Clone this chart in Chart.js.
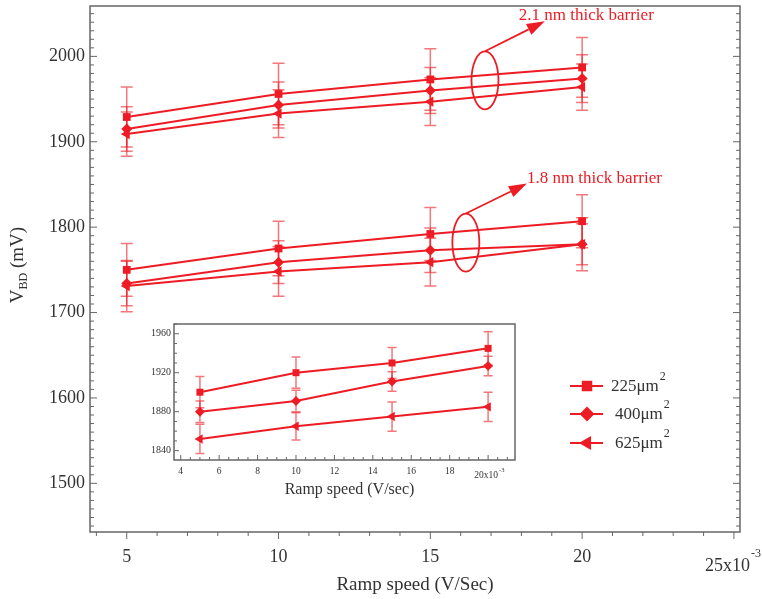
<!DOCTYPE html>
<html>
<head>
<meta charset="utf-8">
<script src="https://cdn.jsdelivr.net/npm/chart.js@4/dist/chart.umd.min.js"></script>
<style>
    body { margin: 0; background: #fff; }
    #wrap { position: relative; width: 762px; height: 599px; }
    #main { position: absolute; left: 0; top: 0; }
    #inset { position: absolute; left: 140px; top: 318px; }
</style>
</head>
<body>
<div id="wrap">
    <canvas id="main" width="762" height="599"></canvas>
    <canvas id="inset" width="385" height="185"></canvas>
</div>
<script>
// Ramp speed (x10^-3 V/s)
const speeds = [5, 10, 15, 20];

// 2.1 nm barrier: V_BD (mV) and error
const thick225 = [1929, 1956, 1973, 1987];
const thick225Err = [35, 36, 36, 35];
const thick400 = [1915, 1943, 1960, 1974];
const thick400Err = [26, 27, 27, 28];
const thick625 = [1909, 1933, 1947, 1964];
const thick625Err = [26, 28, 28, 27];

// 1.8 nm barrier
const thin225 = [1750, 1775, 1792, 1807];
const thin225Err = [31, 32, 31, 31];
const thin400 = [1734, 1759, 1773, 1780];
const thin400Err = [26, 25, 26, 24];
const thin625 = [1731, 1748, 1759, 1780];
const thin625Err = [30, 29, 28, 31];

// Inset
const inset225 = [1900, 1920, 1930, 1945];
const inset225Err = [16, 16, 16, 17];
const inset400 = [1880, 1891, 1911, 1927];
const inset400Err = [11, 11, 10, 10];
const inset625 = [1852, 1865, 1875, 1885];
const inset625Err = [15, 14, 15, 15];

// Ticks
const mainXTicks = [5, 10, 15, 20];
const mainYTicks = [1500, 1600, 1700, 1800, 1900, 2000];
const insetXTicks = [4, 6, 8, 10, 12, 14, 16, 18];
const insetYTicks = [1840, 1880, 1920, 1960];
const areaLabels = ['225\u03bcm', '400\u03bcm', '625\u03bcm'];

// Barrier notes (data units for ring centre and arrow tip)
const barrierNotes = [
    { label: '2.1 nm thick barrier', ring: [16.8, 1972], tip: [18.77, 2041], dx: -26, dy: -6 },
    { label: '1.8 nm thick barrier', ring: [16.17, 1782], tip: [18.18, 1851], dx: 0, dy: -5 }
];

const RED = '#ed1c24';
const ERR = 'rgba(237, 28, 36, 0.6)';
const INK = '#333';
const FRAME = '#666';
const SERIF = '"Liberation Serif", "Times New Roman", serif';

const markers = [
    { style: 'rect', rotation: 0, radius: 5.5 },
    { style: 'rectRot', rotation: 0, radius: 5.5 },
    { style: 'triangle', rotation: -90, radius: 6 }
];

function makeSet(values, errs, k, scale) {
    const m = markers[k];
    return {
        data: speeds.map((s, i) => ({ x: s, y: values[i] })),
        errors: errs,
        borderColor: RED,
        backgroundColor: RED,
        borderWidth: 2,
        pointStyle: m.style,
        pointRotation: m.rotation,
        pointRadius: m.radius * scale,
        pointBackgroundColor: RED,
        pointBorderWidth: 0,
        tension: 0
    };
}

function errorBars(chart, capHalf) {
    const ctx = chart.ctx, xs = chart.scales.x, ys = chart.scales.y;
    ctx.save();
    ctx.strokeStyle = ERR;
    ctx.lineWidth = 1.5;
    chart.data.datasets.forEach(ds => {
        ds.data.forEach((p, j) => {
            const e = ds.errors[j];
            const x = xs.getPixelForValue(p.x);
            const y1 = ys.getPixelForValue(p.y + e);
            const y2 = ys.getPixelForValue(p.y - e);
            ctx.beginPath();
            ctx.moveTo(x, y1); ctx.lineTo(x, y2);
            ctx.moveTo(x - capHalf, y1); ctx.lineTo(x + capHalf, y1);
            ctx.moveTo(x - capHalf, y2); ctx.lineTo(x + capHalf, y2);
            ctx.stroke();
        });
    });
    ctx.restore();
}

function tickMarks(ctx, scale, step, major, lenMajor, lenMinor, at, dir) {
    const horiz = scale.isHorizontal();
    for (let i = Math.ceil(scale.min / step - 1e-9); i * step <= scale.max + 1e-9; i++) {
        const v = i * step;
        const isMajor = Math.abs(v / major - Math.round(v / major)) < 1e-6;
        const len = isMajor ? lenMajor : lenMinor;
        const p = scale.getPixelForValue(v);
        ctx.beginPath();
        if (horiz) { ctx.moveTo(p, at); ctx.lineTo(p, at + dir * len); }
        else { ctx.moveTo(at, p); ctx.lineTo(at + dir * len, p); }
        ctx.stroke();
    }
}

function powerLabel(ctx, text, right, baseline, size, supSize, rise) {
    ctx.font = `${size}px ${SERIF}`;
    ctx.textAlign = 'right';
    ctx.textBaseline = 'alphabetic';
    ctx.fillText(text, right, baseline);
    ctx.font = `${supSize}px ${SERIF}`;
    ctx.textAlign = 'left';
    ctx.fillText('-3', right + 1, baseline - rise);
}

const mainDeco = {
    id: 'mainDeco',
    beforeDatasetsDraw(chart) {
        const { ctx, chartArea: a, scales: { x, y } } = chart;
        ctx.save();
        ctx.strokeStyle = FRAME;
        ctx.lineWidth = 1.5;
        ctx.strokeRect(a.left, a.top, a.right - a.left, a.bottom - a.top);
        ctx.lineWidth = 1;
        tickMarks(ctx, y, 10, 100, 7, 4, a.left, 1);
        tickMarks(ctx, y, 10, 100, 7, 4, a.right, -1);
        tickMarks(ctx, x, 1, 5, 7, 4, a.bottom, 1);
        ctx.restore();
        errorBars(chart, 6);
    },
    afterDatasetsDraw(chart) {
        const { ctx, chartArea: a, scales: { x, y } } = chart;
        ctx.save();

        // Barrier rings, arrows and labels
        barrierNotes.forEach(n => {
            const cx = x.getPixelForValue(n.ring[0]);
            const cy = y.getPixelForValue(n.ring[1]);
            const tx = x.getPixelForValue(n.tip[0]);
            const ty = y.getPixelForValue(n.tip[1]);
            const sx = cx, sy = cy - 29;
            ctx.strokeStyle = RED;
            ctx.fillStyle = RED;
            ctx.lineWidth = 1.8;
            ctx.beginPath();
            ctx.ellipse(cx, cy, 13.5, 29, 0, 0, Math.PI * 2);
            ctx.stroke();
            const ang = Math.atan2(ty - sy, tx - sx);
            const hl = 18, hw = 6;
            const bx = tx - hl * Math.cos(ang), by = ty - hl * Math.sin(ang);
            ctx.beginPath();
            ctx.moveTo(sx, sy); ctx.lineTo(bx, by);
            ctx.stroke();
            ctx.beginPath();
            ctx.moveTo(tx, ty);
            ctx.lineTo(bx + hw * Math.sin(ang), by - hw * Math.cos(ang));
            ctx.lineTo(bx - hw * Math.sin(ang), by + hw * Math.cos(ang));
            ctx.closePath();
            ctx.fill();
            ctx.font = `17px ${SERIF}`;
            ctx.textAlign = 'left';
            ctx.textBaseline = 'middle';
            ctx.fillText(n.label, tx + n.dx, ty + n.dy);
        });

        // Legend
        const rows = [386, 414, 443];
        const textX = [611, 615, 615];
        areaLabels.forEach((lab, k) => {
            const yy = rows[k];
            ctx.strokeStyle = RED;
            ctx.fillStyle = RED;
            ctx.lineWidth = 2;
            ctx.beginPath();
            ctx.moveTo(570, yy); ctx.lineTo(603, yy);
            ctx.stroke();
            Chart.helpers.drawPoint(ctx, {
                pointStyle: markers[k].style,
                rotation: markers[k].rotation,
                radius: markers[k].radius * 1.35,
                borderWidth: 0
            }, 587, yy);
            ctx.fillStyle = INK;
            ctx.font = `17px ${SERIF}`;
            ctx.textAlign = 'left';
            ctx.textBaseline = 'alphabetic';
            ctx.fillText(lab, textX[k], yy + 5);
            const w = ctx.measureText(lab).width;
            ctx.font = `12px ${SERIF}`;
            ctx.fillText('2', textX[k] + w + 1, yy - 6);
        });

        // Axis titles
        ctx.fillStyle = INK;
        ctx.font = `19px ${SERIF}`;
        ctx.textAlign = 'center';
        ctx.textBaseline = 'middle';
        ctx.fillText('Ramp speed (V/Sec)', (a.left + a.right) / 2, 585);

        ctx.save();
        ctx.translate(23, 265);
        ctx.rotate(-Math.PI / 2);
        ctx.textAlign = 'left';
        ctx.textBaseline = 'alphabetic';
        ctx.font = `19px ${SERIF}`;
        const wV = ctx.measureText('V').width;
        const wU = ctx.measureText(' (mV)').width;
        ctx.font = `12px ${SERIF}`;
        const wB = ctx.measureText('BD').width;
        let x0 = -(wV + wB + wU) / 2;
        ctx.font = `19px ${SERIF}`;
        ctx.fillText('V', x0, 0);
        ctx.font = `12px ${SERIF}`;
        ctx.fillText('BD', x0 + wV, 4);
        ctx.font = `19px ${SERIF}`;
        ctx.fillText(' (mV)', x0 + wV + wB, 0);
        ctx.restore();

        // Last x label with the power of ten
        ctx.fillStyle = INK;
        powerLabel(ctx, '25x10', x.getPixelForValue(25) + 16, 571, 18, 12, 14);
        ctx.restore();
    }
};

const insetDeco = {
    id: 'insetDeco',
    beforeDatasetsDraw(chart) {
        const { ctx, chartArea: a, scales: { x, y } } = chart;
        ctx.save();
        ctx.fillStyle = '#fff';
        ctx.fillRect(a.left, a.top, a.right - a.left, a.bottom - a.top);
        ctx.strokeStyle = FRAME;
        ctx.lineWidth = 1.5;
        ctx.strokeRect(a.left, a.top, a.right - a.left, a.bottom - a.top);
        ctx.lineWidth = 1;
        tickMarks(ctx, y, 10, 40, 5, 3, a.left, 1);
        tickMarks(ctx, x, 0.5, 2, 5, 3, a.bottom, -1);
        ctx.restore();
        errorBars(chart, 4.5);
    },
    afterDatasetsDraw(chart) {
        const { ctx, chartArea: a, scales: { x } } = chart;
        ctx.save();
        ctx.fillStyle = INK;
        ctx.font = `16px ${SERIF}`;
        ctx.textAlign = 'center';
        ctx.textBaseline = 'middle';
        ctx.fillText('Ramp speed (V/sec)', (a.left + a.right) / 2 + 5, 172);
        powerLabel(ctx, '20x10', x.getPixelForValue(20) + 10, 160, 9.5, 6.5, 6);
        ctx.restore();
    }
};

function axisOpts(min, max, ticks, fontSize, padding, fit) {
    return {
        type: 'linear',
        min: min,
        max: max,
        grid: { display: false, drawTicks: false },
        border: { display: false },
        afterBuildTicks: s => { s.ticks = ticks.map(v => ({ value: v })); },
        afterFit: s => {
            fit(s);
            s.paddingTop = 0; s.paddingBottom = 0;
            s.paddingLeft = 0; s.paddingRight = 0;
        },
        ticks: {
            padding: padding,
            color: INK,
            autoSkip: false,
            maxRotation: 0,
            font: { family: SERIF, size: fontSize },
            callback: v => String(v)
        }
    };
}

const mainChart = new Chart(document.getElementById('main'), {
    type: 'line',
    data: {
        datasets: [
            makeSet(thick225, thick225Err, 0, 1),
            makeSet(thick400, thick400Err, 1, 1),
            makeSet(thick625, thick625Err, 2, 1),
            makeSet(thin225, thin225Err, 0, 1),
            makeSet(thin400, thin400Err, 1, 1),
            makeSet(thin625, thin625Err, 2, 1)
        ]
    },
    options: {
        responsive: false,
        animation: false,
        layout: { padding: { top: 5, right: 22, left: 0, bottom: 0 } },
        plugins: { legend: { display: false }, tooltip: { enabled: false } },
        scales: {
            x: axisOpts(3.79, 25.2, mainXTicks, 18, 14, s => { s.height = 67; }),
            y: axisOpts(1443, 2059, mainYTicks, 18, 5, s => { s.width = 90; })
        }
    },
    plugins: [mainDeco]
});

const insetChart = new Chart(document.getElementById('inset'), {
    type: 'line',
    data: {
        datasets: [
            makeSet(inset225, inset225Err, 0, 0.9),
            makeSet(inset400, inset400Err, 1, 0.9),
            makeSet(inset625, inset625Err, 2, 0.9)
        ]
    },
    options: {
        responsive: false,
        animation: false,
        layout: { padding: { top: 6, right: 10, left: 0, bottom: 0 } },
        plugins: { legend: { display: false }, tooltip: { enabled: false } },
        scales: {
            x: axisOpts(3.65, 21.4, insetXTicks, 9.5, 6, s => { s.height = 43; }),
            y: axisOpts(1830.4, 1970, insetYTicks, 10, 3, s => { s.width = 34; })
        }
    },
    plugins: [insetDeco]
});
</script>
</body>
</html>
